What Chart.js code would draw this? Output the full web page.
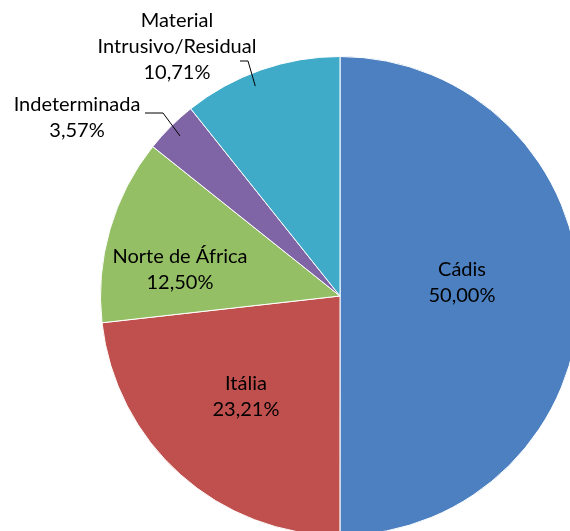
<!DOCTYPE html>
<html>
<head>
<meta charset="utf-8">
<script src="https://cdn.jsdelivr.net/npm/chart.js@4"></script>
<style>
  html, body { margin: 0; padding: 0; background: #fff; overflow: hidden; width: 570px; height: 531px; }
  #wrap { position: absolute; left: 0; top: 0; width: 680px; height: 592px; }
</style>
</head>
<body>
<div id="wrap"><canvas id="chart" width="680" height="592"></canvas></div>
<script>
// data
var categories = ['Cádis', 'Itália', 'Norte de África', 'Indeterminada', ['Material', 'Intrusivo/Residual']];
var shares = [50.00, 23.21, 12.50, 3.57, 10.71];
var colors = ['#4C80C0', '#C0504D', '#94BF65', '#7F64A6', '#40ABC9'];

// label block centres relative to the pie centre, and leader lines (null = inside)
var labelPos = [[122, -13], [-94, 101], [-160, -26], [-263, -178], [-163, -249]];
var leaders = [null, null, null, [[-195, -183], [-177, -183]], [[-100, -235], [-92, -235]]];
// where along the slice (0 = start, 1 = end) the leader touches
var leaderAt = [0.5, 0.5, 0.5, 0.5, 0.43];

var FONT = '20px Lato';
var LINE_H = 26;

function fmt(v) {
	return v.toFixed(2).replace('.', ',') + '%';
}

var pieLabels = {
	id: 'pieLabels',
	afterDatasetsDraw: function(chart) {
		var ctx = chart.ctx;
		var meta = chart.getDatasetMeta(0);
		ctx.save();
		ctx.font = FONT;
		ctx.fillStyle = '#000';
		ctx.textAlign = 'center';
		ctx.textBaseline = 'middle';
		meta.data.forEach(function(arc, i) {
			var cx = arc.x, cy = arc.y;
			var name = chart.data.labels[i];
			var lines = (Array.isArray(name) ? name.slice() : [name]);
			lines.push(fmt(chart.data.datasets[0].data[i]));
			var bx = cx + labelPos[i][0], by = cy + labelPos[i][1];
			var top = by - (lines.length - 1) * LINE_H / 2;
			lines.forEach(function(t, k) {
				ctx.fillText(t, bx, top + k * LINE_H);
			});
			if (leaders[i]) {
				var a = arc.startAngle + (arc.endAngle - arc.startAngle) * leaderAt[i];
				var r = arc.outerRadius * 0.945;
				ctx.strokeStyle = '#000';
				ctx.lineWidth = 1;
				ctx.beginPath();
				ctx.moveTo(cx + leaders[i][0][0], cy + leaders[i][0][1]);
				ctx.lineTo(cx + leaders[i][1][0], cy + leaders[i][1][1]);
				ctx.lineTo(cx + Math.cos(a) * r, cy + Math.sin(a) * r);
				ctx.stroke();
			}
		});
		ctx.restore();
	}
};

var ctx = document.getElementById('chart').getContext('2d');
var pie = new Chart(ctx, {
	type: 'pie',
	data: {
		labels: categories,
		datasets: [{
			data: shares,
			backgroundColor: colors,
			borderColor: '#ffffff',
			borderWidth: 1
		}]
	},
	options: {
		responsive: false,
		animation: false,
		layout: { padding: 56 },
		plugins: {
			legend: { display: false },
			tooltip: { enabled: false }
		}
	},
	plugins: [pieLabels]
});
</script>
</body>
</html>
